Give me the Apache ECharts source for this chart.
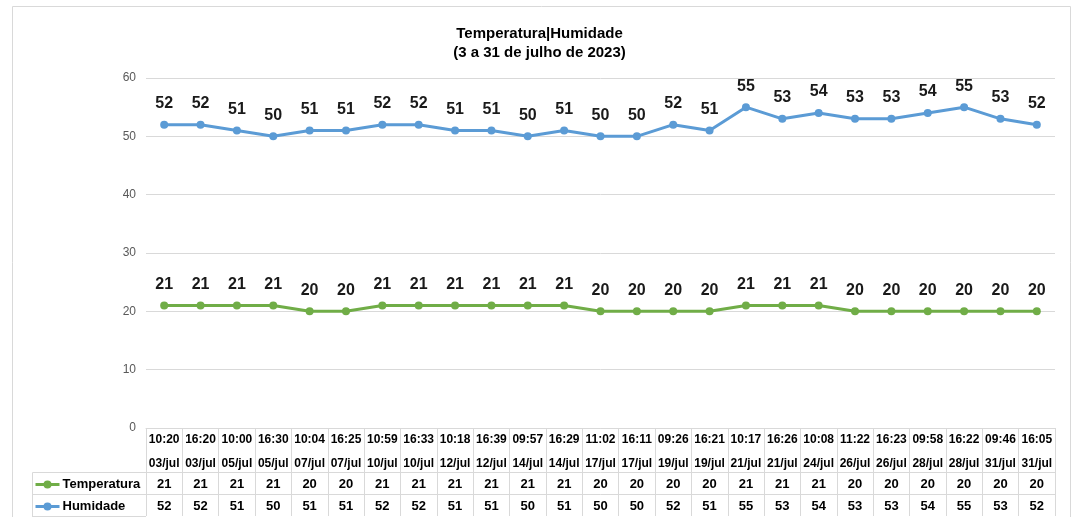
<!DOCTYPE html>
<html>
<head>
<meta charset="utf-8">
<script src="https://cdn.jsdelivr.net/npm/echarts@6/dist/echarts.min.js"></script>
<style>html,body{margin:0;padding:0;background:#fff;}#c{width:1079px;height:517px;}</style>
</head>
<body>
<div id="c"></div>
<script>
var times = ['10:20','16:20','10:00','16:30','10:04','16:25','10:59','16:33','10:18','16:39','09:57','16:29','11:02','16:11','09:26','16:21','10:17','16:26','10:08','11:22','16:23','09:58','16:22','09:46','16:05'];
var dates = ['03/jul','03/jul','05/jul','05/jul','07/jul','07/jul','10/jul','10/jul','12/jul','12/jul','14/jul','14/jul','17/jul','17/jul','19/jul','19/jul','21/jul','21/jul','24/jul','26/jul','26/jul','28/jul','28/jul','31/jul','31/jul'];
var temperatura = [21,21,21,21,20,20,21,21,21,21,21,21,20,20,20,20,21,21,21,20,20,20,20,20,20];
var humidade = [52,52,51,50,51,51,52,52,51,51,50,51,50,50,52,51,55,53,54,53,53,54,55,53,52];
var yTicks = [0,10,20,30,40,50,60];

var F = "'Liberation Sans',Arial,sans-serif";
var GRID = '#d9d9d9';
var categories = times.map(function(t,i){ return t + '\n' + dates[i]; });

var chart = echarts.init(document.getElementById('c'));
function tableAxis(offset, tickLen, fmt, lh, margin, fs){
  return {
    type:'category', data: categories, position:'bottom', offset: offset, gridIndex:0,
    boundaryGap:true,
    axisLine:{show:true, lineStyle:{color:GRID, width:1}},
    axisTick:{show:true, interval:0, length:tickLen, lineStyle:{color:GRID}},
    axisLabel:{interval:0, margin:margin, fontFamily:F, fontWeight:'bold', fontSize:fs, color:'#000', lineHeight:lh, formatter: fmt}
  };
}
chart.setOption({
  animation:false,
  title:{
    text:'Temperatura|Humidade\n(3 a 31 de julho de 2023)',
    left:'center', top:19,
    textStyle:{fontFamily:F, fontWeight:'bold', fontSize:15, color:'#000', lineHeight:19}
  },
  legend:{
    orient:'vertical', left:34, top:478, padding:0, itemGap:9, itemWidth:24, itemHeight:10,
    lineStyle:{width:3},
    textStyle:{fontFamily:F, fontWeight:'bold', fontSize:13, color:'#000', padding:[0,0,0,-2]},
    data:['Temperatura','Humidade']
  },
  grid:{left:146, right:24, top:78, bottom:89, containLabel:false},
  yAxis:{
    type:'value', min:yTicks[0], max:yTicks[yTicks.length-1], interval:10,
    axisLine:{show:false}, axisTick:{show:false},
    axisLabel:{color:'#595959', fontSize:12, fontFamily:F, margin:10},
    splitLine:{lineStyle:{color:GRID}}
  },
  xAxis:[
    tableAxis(0, 44, function(v){ return v; }, 24, 0, 12),
    tableAxis(44, 22, function(v,i){ return String(temperatura[i]); }, 14, 5, 13),
    tableAxis(66, 22, function(v,i){ return String(humidade[i]); }, 14, 5, 13)
  ],
  series:[
    {name:'Temperatura', type:'line', xAxisIndex:0, data:temperatura,
     symbol:'circle', symbolSize:8, color:'#70ad47', lineStyle:{width:3, color:'#70ad47'},
     itemStyle:{color:'#70ad47'},
     label:{show:true, position:'top', distance:9, fontFamily:F, fontWeight:'bold', fontSize:16, color:'#1a1a1a'}},
    {name:'Humidade', type:'line', xAxisIndex:0, data:humidade,
     symbol:'circle', symbolSize:8, color:'#5b9bd5', lineStyle:{width:3, color:'#5b9bd5'},
     itemStyle:{color:'#5b9bd5'},
     label:{show:true, position:'top', distance:9, fontFamily:F, fontWeight:'bold', fontSize:16, color:'#1a1a1a'}}
  ],
  graphic:[
    {type:'rect', shape:{x:12.5, y:6.5, width:1058, height:520}, style:{fill:null, stroke:'#d9d9d9', lineWidth:1}, silent:true, z:-1},
    {type:'line', shape:{x1:32.5, y1:472.5, x2:146, y2:472.5}, style:{stroke:GRID}},
    {type:'line', shape:{x1:32.5, y1:494.5, x2:146, y2:494.5}, style:{stroke:GRID}},
    {type:'line', shape:{x1:32.5, y1:516.5, x2:146, y2:516.5}, style:{stroke:GRID}},
    {type:'line', shape:{x1:32.5, y1:472.5, x2:32.5, y2:517}, style:{stroke:GRID}}
  ]
});
</script>
</body>
</html>
